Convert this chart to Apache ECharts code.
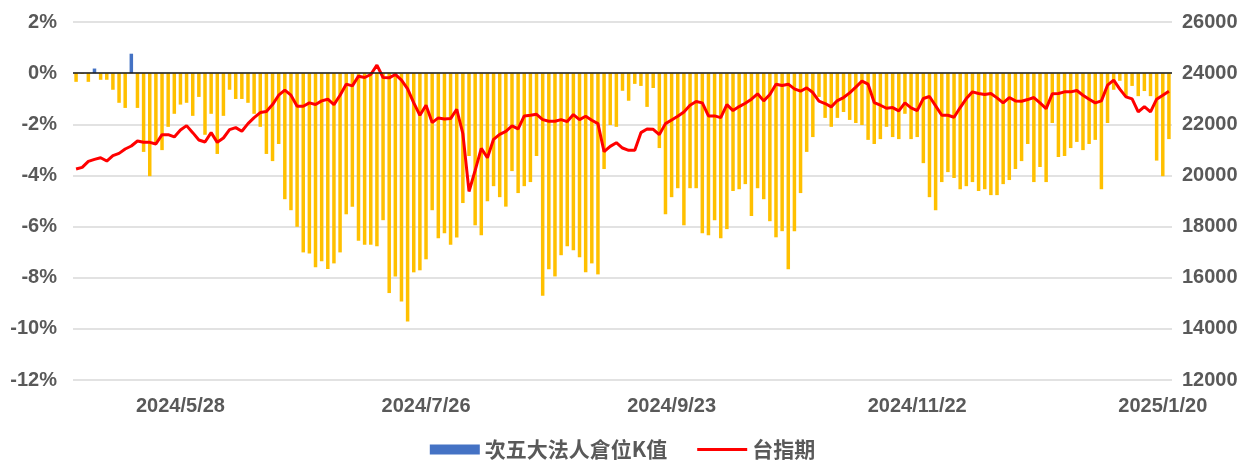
<!DOCTYPE html>
<html>
<head>
<meta charset="utf-8">
<title>次五大法人倉位K值 vs 台指期</title>
<script src="https://cdn.jsdelivr.net/npm/echarts@6/dist/echarts.min.js"></script>
<style>
  html, body { margin: 0; padding: 0; background: #fff; }
  #chart { width: 1245px; height: 460px; }
</style>
</head>
<body>
<div id="chart"></div>
<script>
// trading days, 2024/5/3 - 2025/1/21
var dates = [
  '2024/5/3','2024/5/6','2024/5/7','2024/5/8','2024/5/9','2024/5/10','2024/5/13','2024/5/14','2024/5/15','2024/5/16',
  '2024/5/17','2024/5/20','2024/5/21','2024/5/22','2024/5/23','2024/5/24','2024/5/27','2024/5/28','2024/5/29','2024/5/30',
  '2024/5/31','2024/6/3','2024/6/4','2024/6/5','2024/6/6','2024/6/7','2024/6/11','2024/6/12','2024/6/13','2024/6/14',
  '2024/6/17','2024/6/18','2024/6/19','2024/6/20','2024/6/21','2024/6/24','2024/6/25','2024/6/26','2024/6/27','2024/6/28',
  '2024/7/1','2024/7/2','2024/7/3','2024/7/4','2024/7/5','2024/7/8','2024/7/9','2024/7/10','2024/7/11','2024/7/12',
  '2024/7/15','2024/7/16','2024/7/17','2024/7/18','2024/7/19','2024/7/22','2024/7/23','2024/7/26','2024/7/29','2024/7/30',
  '2024/7/31','2024/8/1','2024/8/2','2024/8/5','2024/8/6','2024/8/7','2024/8/8','2024/8/9','2024/8/12','2024/8/13',
  '2024/8/14','2024/8/15','2024/8/16','2024/8/19','2024/8/20','2024/8/21','2024/8/22','2024/8/23','2024/8/26','2024/8/27',
  '2024/8/28','2024/8/29','2024/8/30','2024/9/2','2024/9/3','2024/9/4','2024/9/5','2024/9/6','2024/9/9','2024/9/10',
  '2024/9/11','2024/9/12','2024/9/13','2024/9/16','2024/9/18','2024/9/19','2024/9/20','2024/9/23','2024/9/24','2024/9/25',
  '2024/9/26','2024/9/27','2024/9/30','2024/10/1','2024/10/4','2024/10/7','2024/10/8','2024/10/9','2024/10/11','2024/10/14',
  '2024/10/15','2024/10/16','2024/10/17','2024/10/18','2024/10/21','2024/10/22','2024/10/23','2024/10/24','2024/10/25','2024/10/28',
  '2024/10/29','2024/10/30','2024/11/1','2024/11/4','2024/11/5','2024/11/6','2024/11/7','2024/11/8','2024/11/11','2024/11/12',
  '2024/11/13','2024/11/14','2024/11/15','2024/11/18','2024/11/19','2024/11/20','2024/11/21','2024/11/22','2024/11/25','2024/11/26',
  '2024/11/27','2024/11/28','2024/11/29','2024/12/2','2024/12/3','2024/12/4','2024/12/5','2024/12/6','2024/12/9','2024/12/10',
  '2024/12/11','2024/12/12','2024/12/13','2024/12/16','2024/12/17','2024/12/18','2024/12/19','2024/12/20','2024/12/23','2024/12/24',
  '2024/12/25','2024/12/26','2024/12/27','2024/12/30','2024/12/31','2025/1/2','2025/1/3','2025/1/6','2025/1/7','2025/1/8',
  '2025/1/9','2025/1/10','2025/1/13','2025/1/14','2025/1/15','2025/1/16','2025/1/17','2025/1/20','2025/1/21'
];

// 次五大法人倉位K值 (%)
var kValues = [
  -0.34, -0.03, -0.34, 0.18, -0.26, -0.26, -0.65, -1.16, -1.36, 0.76,
  -1.36, -3.08, -4.03, -2.76, -3.01, -2.10, -1.59, -1.23, -1.16, -1.67,
  -0.93, -2.41, -1.59, -3.16, -1.67, -0.65, -1.01, -1.01, -1.16, -1.59,
  -2.10, -3.16, -3.44, -2.77, -4.93, -5.36, -6.01, -7.01, -7.05, -7.59,
  -7.36, -7.66, -7.44, -7.01, -5.52, -5.22, -6.55, -6.71, -6.71, -6.77,
  -5.75, -8.60, -7.95, -8.93, -9.71, -7.79, -7.71, -7.28, -5.36, -6.46,
  -6.26, -6.71, -6.43, -5.08, -3.24, -5.95, -6.34, -5.01, -4.42, -4.85,
  -5.22, -3.83, -4.69, -4.42, -4.26, -3.24, -8.71, -7.67, -7.95, -7.12,
  -6.77, -6.93, -7.20, -7.79, -7.44, -7.87, -3.75, -2.03, -2.10, -0.69,
  -1.08, -0.42, -0.50, -1.32, -0.58, -2.93, -5.52, -4.85, -4.50, -5.95,
  -4.50, -4.50, -6.26, -6.34, -5.75, -6.46, -6.10, -4.61, -4.54, -4.34,
  -5.59, -4.50, -4.93, -5.79, -6.42, -6.18, -7.67, -6.18, -4.69, -3.08,
  -2.50, -0.93, -1.75, -2.10, -1.75, -1.52, -1.83, -1.95, -2.03, -2.61,
  -2.77, -2.58, -2.10, -2.50, -2.58, -1.59, -2.58, -2.50, -3.52, -4.85,
  -5.36, -4.26, -3.87, -4.10, -4.54, -4.42, -4.26, -4.61, -4.54, -4.77,
  -4.77, -4.34, -4.18, -3.75, -3.44, -2.77, -4.26, -3.67, -4.26, -1.95,
  -3.28, -3.24, -2.93, -2.69, -3.01, -2.77, -2.61, -4.54, -1.95, -0.65,
  -0.30, -0.90, -0.50, -0.90, -0.70, -0.90, -3.42, -4.03, -2.58
];

// 台指期
var futures = [
  20249, 20314, 20549, 20628, 20693, 20562, 20772, 20863, 21033, 21151,
  21347, 21294, 21294, 21229, 21595, 21595, 21504, 21778, 21948, 21673,
  21386, 21307, 21673, 21294, 21464, 21791, 21870, 21726, 22026, 22262,
  22458, 22497, 22771, 23137, 23333, 23137, 22706, 22706, 22837, 22771,
  22915, 22981, 22771, 23137, 23569, 23503, 23882, 23830, 23948, 24314,
  23830, 23817, 23948, 23726, 23386, 22837, 22353, 22745, 22066, 22249,
  22209, 22222, 22588, 21634, 19373, 20197, 21059, 20693, 21412, 21608,
  21726, 21935, 21817, 22327, 22353, 22392, 22183, 22118, 22118, 22183,
  22105, 22379, 22183, 22314, 22157, 22026, 20928, 21137, 21281, 21072,
  20981, 20981, 21673, 21817, 21804, 21595, 22026, 22170, 22314, 22484,
  22745, 22889, 22837, 22327, 22327, 22262, 22771, 22536, 22693, 22824,
  22981, 23190, 22915, 23163, 23569, 23516, 23569, 23386, 23294, 23425,
  23242, 22902, 22811, 22680, 22928, 23046, 23229, 23451, 23686, 23569,
  22850, 22745, 22628, 22654, 22523, 22837, 22641, 22536, 23007, 23085,
  22719, 22353, 22353, 22275, 22654, 23007, 23268, 23203, 23163, 23203,
  23033, 22837, 23046, 22915, 22902, 22967, 23046, 22837, 22615, 23190,
  23203, 23268, 23268, 23320, 23137, 22981, 22837, 22915, 23529, 23726,
  23373, 23072, 22994, 22484, 22693, 22484, 22981, 23137, 23294
];

var tickLabels = ['2024/5/28', '2024/7/26', '2024/9/23', '2024/11/22', '2025/1/20'];

var POS = '#4472C4', NEG = '#FFC000', LINE = '#FF0000';
var textColor = '#595959';
var axisFont = 'Liberation Sans, Arial, sans-serif';

var chart = echarts.init(document.getElementById('chart'));

chart.setOption({
  animation: false,
  backgroundColor: '#fff',
  grid: { left: 73, right: 73, top: 22, bottom: 80 },
  legend: {
    top: 434,
    left: 'center',
    itemWidth: 50,
    itemHeight: 10,
    itemGap: 30,
    textStyle: { color: textColor, fontSize: 21, fontWeight: 'bold', fontFamily: 'Noto Sans CJK TC, sans-serif' },
    data: [
      { name: '次五大法人倉位K值', icon: 'rect', itemStyle: { color: POS } },
      { name: '台指期', icon: 'path://M0,0 L50,0 L50,3 L0,3 Z', itemStyle: { color: LINE } }
    ]
  },
  xAxis: {
    type: 'category',
    data: dates,
    boundaryGap: true,
    axisLine: { show: false },
    axisTick: { show: false },
    axisLabel: {
      interval: function (idx, val) { return tickLabels.indexOf(val) >= 0; },
      margin: 16,
      color: textColor,
      fontSize: 20,
      fontWeight: 'bold',
      fontFamily: axisFont
    },
    splitLine: { show: false }
  },
  yAxis: [
    {
      type: 'value',
      min: -12, max: 2, interval: 2,
      axisLine: { show: false },
      axisTick: { show: false },
      axisLabel: { formatter: '{value}%', color: textColor, fontSize: 20, fontWeight: 'bold', fontFamily: axisFont, margin: 16 },
      splitLine: { lineStyle: { color: '#D9D9D9', width: 1.5 } }
    },
    {
      type: 'value',
      min: 12000, max: 26000, interval: 2000,
      axisLine: { show: false },
      axisTick: { show: false },
      axisLabel: {
        formatter: function (v) { return String(v); },
        color: textColor, fontSize: 20, fontWeight: 'bold', fontFamily: axisFont, margin: 10
      },
      splitLine: { show: false }
    }
  ],
  series: [
    {
      name: '次五大法人倉位K值',
      type: 'bar',
      yAxisIndex: 0,
      barWidth: 3.5,
      itemStyle: { color: POS },
      data: kValues.map(function (v) {
        return { value: v, itemStyle: { color: v >= 0 ? POS : NEG } };
      }),
      markLine: {
        silent: true,
        symbol: 'none',
        label: { show: false },
        lineStyle: { color: '#1a1a1a', width: 1.5, type: 'solid' },
        data: [{ yAxis: 0 }]
      },
      z: 2
    },
    {
      name: '台指期',
      type: 'line',
      yAxisIndex: 1,
      data: futures,
      symbol: 'none',
      lineStyle: { color: LINE, width: 3 },
      itemStyle: { color: LINE },
      z: 3
    }
  ]
});
</script>
</body>
</html>
